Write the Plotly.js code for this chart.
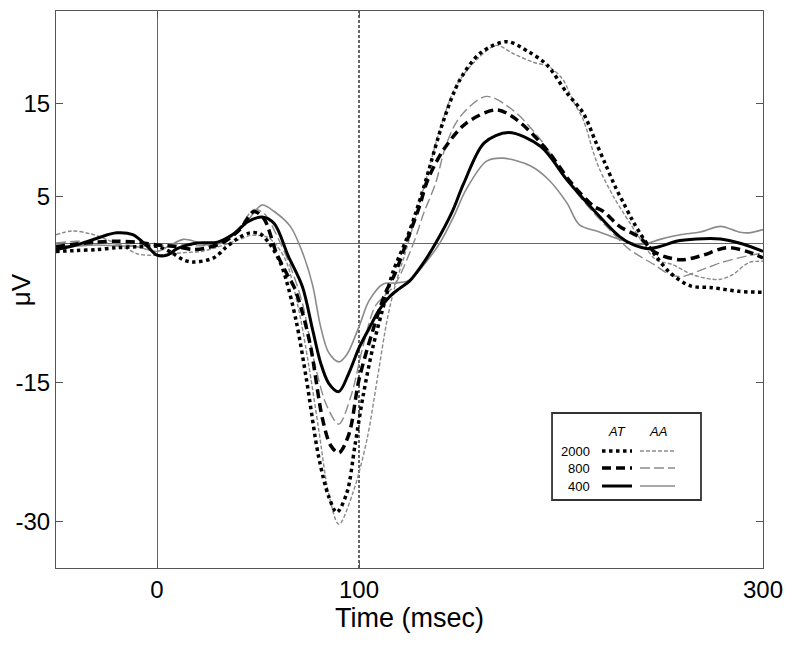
<!DOCTYPE html>
<html>
<head>
<meta charset="utf-8">
<script src="https://cdn.plot.ly/plotly-3.0.1.min.js"></script>
<style>html,body{margin:0;padding:0;background:#fff;}#chart{width:800px;height:645px;}</style>
</head>
<body>
<div id="chart"></div>
<script>
// ---- data (time in msec, amplitude in µV) ----
const tAT400 = [-50,-40,-30,-20,-12,-5,0,5,10,20,30,38,45,52,58,65,72,77,81,85,90,95,100,105,110,115,120,125,132,138,146,152,162,174,190,203,216,229,236,243,250,257,267,279,290,300];
const vAT400 = [-0.7,-0.2,0.5,1.1,0.9,-0.3,-1.3,-1.3,-0.6,0,0.1,1.0,2.3,2.8,2.1,-1.4,-4.7,-9.3,-12.9,-15.1,-16.0,-14.0,-11.3,-9.2,-7.2,-5.8,-4.9,-4.1,-2.1,0,3.3,6.5,10.8,11.9,10.4,6.8,3.6,0.7,-0.2,-0.6,-0.3,0.2,0.45,0.45,-0.1,-0.9];

const tAA400 = [-50,-40,-30,-20,-10,0,6,13,20,25,34,44,52,58,66,72,77,81,85,90,94,100,105,112,118,125,133,140,147,153,163,171,185,194,203,209,219,229,240,249,259,269,279,288,293,300];
const vAA400 = [-0.2,-0.3,-0.2,-0.3,-0.4,-0.9,-0.3,0.4,0.1,-0.2,0.2,2.2,4.1,3.4,1.8,-1.0,-4.5,-9.0,-11.8,-12.8,-12.0,-9.0,-6.2,-4.4,-4.3,-4.0,-2.1,0,2.9,5.75,8.8,9.15,8.3,6.8,4.3,2.0,1.2,0.4,-0.15,0.4,0.9,1.2,1.8,1.2,1.1,1.45];

const tAT800 = [-50,-40,-30,-20,-10,0,10,18,25,33,41,48,53,59,64,68,72,76,82,86,90,95,100,107,113,118,124,130,134,142,153,168,178,193,205,216,221,229,239,247,259,269,282,292,300];
const vAT800 = [-0.4,-0.1,0.1,0.2,0.1,-0.2,-0.4,-0.7,-0.5,0.1,1.45,3.4,2.6,-1.0,-3.2,-4.8,-7.5,-11.1,-19.0,-21.8,-22.6,-20.6,-14.7,-9.3,-5.4,-3.2,0.4,4.0,6.8,10.1,12.9,14.35,13.3,10.05,6.5,4.0,3.4,1.8,0.6,-1.05,-1.8,-1.4,-0.5,-0.9,-1.6];

const tAA800 = [-50,-40,-30,-20,-10,0,10,20,30,40,48,53,60,66,72,78,84,90,96,102,108,113,118,127,132,138,143,150,163,176,190,203,212,224,234,246,254,260,270,280,292,300];
const vAA800 = [0.0,0.2,0.1,-0.1,-0.3,-0.3,-0.1,-0.3,0,1.5,3.6,3.2,0.5,-2.5,-6.5,-12.9,-17.5,-19.5,-16.5,-11.1,-6.8,-5.6,-4.4,0,3.2,6.5,10.5,13.6,15.8,14.35,11.1,6.8,4.3,1.45,-0.7,-2.3,-3.4,-3.6,-2.85,-2.05,-1.4,-1.05];

const tAT2000 = [-50,-40,-30,-20,-10,0,7,13,18,28,34,40,46,51,56,61,64,69,74,80,85,89,94,98,102,107,113,117,123.5,128,133,142,150,160,173,184,193,203,211,217,222,227,231,235,239,247,254,264,275,288,300];
const vAT2000 = [-0.9,-0.8,-0.7,-0.5,-0.4,-0.35,-1.0,-1.8,-2.05,-1.6,-0.5,0.5,1.1,1.0,-0.15,-2.1,-4.0,-8.5,-14.7,-23.0,-27.3,-29.0,-26.9,-21.8,-16.5,-11.1,-6.1,-3.0,0.4,3.2,6.7,13.3,17.6,20.45,21.7,20.6,19.2,16.15,14.0,11.0,8.5,6.0,4.3,2.6,1.1,-1.4,-3.2,-4.6,-4.8,-5.2,-5.3];

const tAA2000 = [-50,-42,-33,-25,-17,-9,0,5,15,22,29,41,46,51,55,59,64,70,75,80,85,90,97,104,109,114,118,123,128,134,140,148,158,168,176,186,194,201,206,211,216,219,226,234,240,247,255,265,275,279,285,293,300];
const vAA2000 = [0.9,1.3,1.0,0.4,-0.4,-1.2,-1.3,-1.2,-1.0,-0.9,-0.5,0.4,0.8,0.8,0.6,-0.2,-2.0,-7.0,-13.0,-20.0,-27.0,-30.3,-26.9,-21.1,-14.7,-8.2,-4.5,-1.0,2.8,7.5,12.2,16.9,19.7,21.3,20.45,19.5,19.0,17.6,15.3,13.3,9.8,8.0,5.0,2.2,0.2,-1.8,-2.3,-3.4,-3.9,-3.9,-3.4,-2.1,-1.95];

const xTicks = [0, 100, 300];
const yTicks = [-30, -15, 5, 15];
const legendRows = ['2000', '800', '400'];
const legendCols = ['AT', 'AA'];

// ---- styles ----
const FONT = 'Liberation Sans, Arial, Helvetica, sans-serif';
const GRAY = '#8a8a8a';
const AXC = '#555555';
const styles = {
  AT2000: {color: '#000', width: 3.5, dash: '3.5px,3.5px'},
  AT800:  {color: '#000', width: 3.5, dash: '9px,5px'},
  AT400:  {color: '#000', width: 3,   dash: 'solid'},
  AA2000: {color: GRAY,   width: 1.4, dash: '4px,2px'},
  AA800:  {color: GRAY,   width: 1.4, dash: '10px,4px'},
  AA400:  {color: GRAY,   width: 1.6, dash: 'solid'}
};

function tr(name, x, y) {
  return {x: x, y: y, type: 'scatter', mode: 'lines', name: name, showlegend: false,
          line: Object.assign({shape: 'spline', smoothing: 0.9}, styles[name]), hoverinfo: 'x+y+name'};
}
const data = [
  tr('AA400', tAA400, vAA400),
  tr('AA800', tAA800, vAA800),
  tr('AA2000', tAA2000, vAA2000),
  tr('AT400', tAT400, vAT400),
  tr('AT800', tAT800, vAT800),
  tr('AT2000', tAT2000, vAT2000)
];

// legend box (paper coordinates)
const L = {x0: 0.7016, x1: 0.9123, y0: 0.1221, y1: 0.2783,
           labelX: 0.758, colX: [0.7935, 0.8508], headY: 0.2442,
           rowY: [0.2100, 0.1795, 0.1472],
           samp: [[0.7723, 0.8147], [0.8260, 0.8756]]};
const shapes = [
  {type: 'line', xref: 'x', yref: 'paper', x0: 100, x1: 100, y0: 0, y1: 1,
   line: {color: '#000', width: 1.2, dash: '3px,2px'}, layer: 'below'},
  {type: 'rect', xref: 'paper', yref: 'paper', x0: L.x0, x1: L.x1, y0: L.y0, y1: L.y1,
   line: {color: '#333', width: 1.8}, fillcolor: '#fff'}
];
const annotations = [
  {xref: 'paper', yref: 'paper', x: -0.05, y: 0.5, text: 'μV', textangle: -90, showarrow: false,
   font: {family: FONT, size: 26, color: '#000'}, xanchor: 'center', yanchor: 'middle'}
];
legendCols.forEach((c, j) => {
  annotations.push({xref: 'paper', yref: 'paper', x: L.colX[j], y: L.headY, text: '<i>' + c + '</i>',
    showarrow: false, font: {family: FONT, size: 13, color: '#000'}, xanchor: 'center', yanchor: 'middle'});
});
legendRows.forEach((r, i) => {
  annotations.push({xref: 'paper', yref: 'paper', x: L.labelX, y: L.rowY[i], text: r,
    showarrow: false, font: {family: FONT, size: 13, color: '#000'}, xanchor: 'right', yanchor: 'middle'});
  legendCols.forEach((c, j) => {
    const st = styles[c + r];
    shapes.push({type: 'line', xref: 'paper', yref: 'paper', x0: L.samp[j][0], x1: L.samp[j][1],
      y0: L.rowY[i], y1: L.rowY[i], line: {color: st.color, width: st.width, dash: st.dash}});
  });
});

const layout = {
  width: 800, height: 645,
  margin: {l: 56, r: 37, t: 11, b: 77},
  paper_bgcolor: '#fff', plot_bgcolor: '#fff',
  font: {family: FONT, color: '#000'},
  showlegend: false,
  xaxis: {
    range: [-50, 300], tickvals: xTicks, ticktext: xTicks.map(String),
    showgrid: false, zeroline: true, zerolinecolor: '#666', zerolinewidth: 1,
    showline: true, linecolor: AXC, linewidth: 1, mirror: 'ticks',
    ticks: 'inside', ticklen: 7, tickcolor: AXC,
    tickfont: {family: FONT, size: 24, color: '#000'},
    title: {text: 'Time (msec)', font: {family: FONT, size: 27, color: '#000'}, standoff: 0}
  },
  yaxis: {
    range: [-35, 25], tickvals: yTicks, ticktext: yTicks.map(String),
    showgrid: false, zeroline: true, zerolinecolor: '#666', zerolinewidth: 1,
    showline: true, linecolor: AXC, linewidth: 1, mirror: 'ticks',
    ticks: 'inside', ticklen: 7, tickcolor: AXC,
    tickfont: {family: FONT, size: 24, color: '#000'}
  },
  shapes: shapes,
  annotations: annotations
};
Plotly.newPlot('chart', data, layout, {displayModeBar: false, staticPlot: true});
</script>
</body>
</html>
